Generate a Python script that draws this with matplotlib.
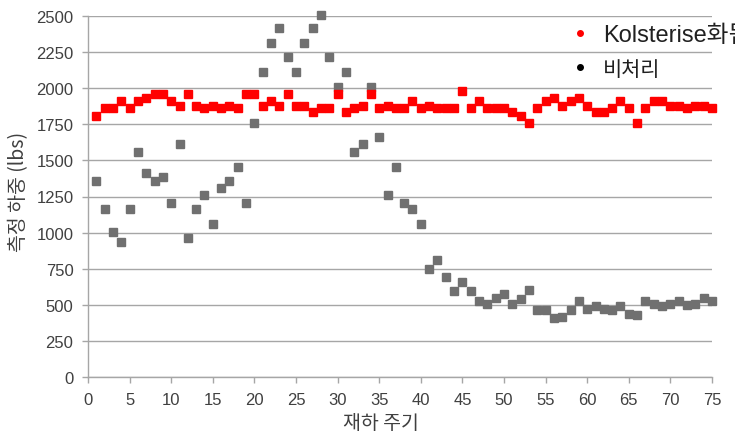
import matplotlib
matplotlib.use("Agg")
import matplotlib.pyplot as plt
from matplotlib.lines import Line2D

plt.rcParams['font.family'] = ['Noto Sans CJK KR', 'DejaVu Sans']

cycles = list(range(1, 76))
kolsterised = [1805, 1860, 1860, 1910, 1860, 1910, 1935, 1963, 1963, 1910,
               1880, 1963, 1880, 1860, 1880, 1860, 1880, 1860, 1963, 1963,
               1880, 1910, 1880, 1963, 1880, 1880, 1833, 1860, 1860, 1963,
               1833, 1860, 1880, 1963, 1860, 1880, 1860, 1860, 1910, 1860,
               1880, 1860, 1860, 1860, 1981, 1860, 1910, 1860, 1860, 1860,
               1833, 1805, 1759, 1860, 1910, 1935, 1880, 1910, 1935, 1880,
               1833, 1833, 1860, 1910, 1860, 1759, 1860, 1910, 1910, 1880,
               1880, 1860, 1880, 1880, 1860]
untreated = [1354, 1162, 1007, 933, 1162, 1558, 1410, 1354, 1382, 1208,
             1613, 961, 1162, 1261, 1063, 1308, 1354, 1456, 1208, 1759,
             2111, 2315, 2414, 2213, 2111, 2315, 2414, 2507, 2213, 2009,
             2111, 1558, 1613, 2009, 1660, 1261, 1456, 1208, 1162, 1063,
             750, 812, 694, 593, 657, 593, 528, 509, 546, 574,
             509, 537, 602, 463, 463, 407, 417, 463, 528, 472,
             491, 472, 463, 491, 435, 426, 528, 509, 491, 509,
             528, 500, 509, 546, 528]
xticks = list(range(0, 76, 5))
yticks = list(range(0, 2501, 250))
labels = ['Kolsterise화됨', '비처리']
xlabel = '재하 주기'
ylabel = '측정 하중 (lbs)'

grid_c = '#a6a6a6'
tick_font = ['Liberation Sans Narrow', 'Liberation Sans', 'DejaVu Sans']

fig = plt.figure(figsize=(7.35, 4.35), dpi=100)
ax = fig.add_axes([88/735, 57/435, 624/735, 361/435])

ax.plot(cycles, untreated, linestyle='none', marker='s', ms=5.6,
        color='#707070', clip_on=False, zorder=3)
ax.plot(cycles, kolsterised, linestyle='none', marker='s', ms=5.6,
        color='#ff0000', clip_on=False, zorder=4)

ax.set_xlim(0, 75)
ax.set_ylim(0, 2500)
ax.set_xticks(xticks)
ax.set_yticks(yticks)
ax.set_xticklabels([str(v) for v in xticks], family=tick_font, fontsize=12, color='#404040')
ax.set_yticklabels([str(v) for v in yticks], family=tick_font, fontsize=12, color='#404040')
ax.yaxis.grid(True, color=grid_c, linewidth=1.0)
ax.set_axisbelow(True)
for s in ['top', 'right']:
    ax.spines[s].set_visible(False)
for s in ['left', 'bottom']:
    ax.spines[s].set_color(grid_c)
    ax.spines[s].set_linewidth(1.0)
ax.tick_params(axis='both', color=grid_c, width=1.0, length=4.5)
ax.tick_params(axis='y', pad=6)
ax.tick_params(axis='x', pad=6)

ax.set_xlabel(xlabel, fontsize=14, color='#404040')
ax.xaxis.set_label_coords(0.47, -0.098)
ax.set_ylabel(ylabel, fontsize=14, color='#404040')
ax.yaxis.set_label_coords(-0.095, 0.515)

handles = [Line2D([], [], linestyle='none', marker='o', ms=4, color='#ff0000'),
           Line2D([], [], linestyle='none', marker='o', ms=4, color='#000000')]
leg = ax.legend(handles, labels, loc='upper left', bbox_to_anchor=(0.735, 1.037),
                frameon=False, fontsize=17, handletextpad=0.5, labelspacing=0.55,
                handlelength=1.0)
texts = leg.get_texts()
for t in texts:
    t.set_color('#202020')
    t.set_family(['Liberation Sans', 'Noto Sans CJK KR'])
texts[1].set_fontsize(15)

fig.savefig('out.png', dpi=100)
